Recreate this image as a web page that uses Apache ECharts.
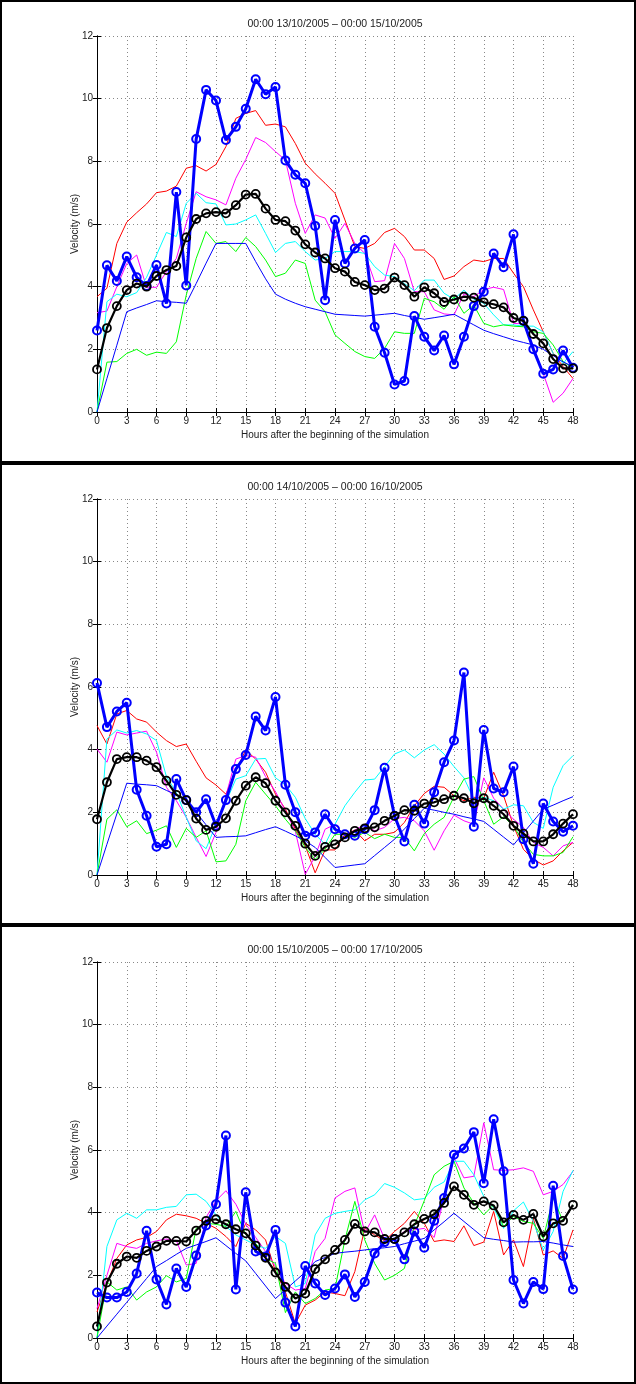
<!DOCTYPE html>
<html>
<head>
<meta charset="utf-8">
<script src="https://cdn.jsdelivr.net/npm/echarts@6/dist/echarts.min.js"></script>
<style>
html,body{margin:0;padding:0;background:#fff;}
#c{width:636px;height:1384px;}
</style>
</head>
<body>
<div id="c"></div>
<script>
// ---- data (hour 0..48, velocity m/s) ----
const hours = Array.from({length: 49}, (_, i) => i);
const xTicks = [0,3,6,9,12,15,18,21,24,27,30,33,36,39,42,45,48];
const yTicks = [0,2,4,6,8,10,12];
const titles = [
  "00:00 13/10/2005 \u2013 00:00 15/10/2005",
  "00:00 14/10/2005 \u2013 00:00 16/10/2005",
  "00:00 15/10/2005 \u2013 00:00 17/10/2005"
];

// Panel 1
const p1Red = [3.68,3.95,5.38,6.06,6.36,6.64,7.0,7.05,7.21,7.78,7.86,7.69,7.9,8.47,9.37,9.53,9.62,9.15,9.19,9.1,8.57,7.94,7.6,7.3,6.98,6.13,5.28,5.22,5.38,5.73,5.86,5.6,5.17,5.17,4.9,4.23,4.34,4.64,4.85,4.8,4.9,4.9,4.43,4.0,3.26,2.56,1.87,1.45,1.07];
const p1Magenta = [3.17,3.22,4.0,4.74,5.01,3.98,3.98,4.48,4.9,6.02,7.03,6.87,6.77,6.61,7.46,8.06,8.76,8.6,8.31,8.04,6.66,5.7,6.29,6.19,5.54,6.02,5.38,5.06,4.16,4.19,5.38,4.9,3.84,3.84,3.26,3.13,3.1,3.77,3.68,3.91,3.98,3.91,2.83,2.81,2.09,1.23,0.31,0.6,1.07];
const p1Cyan = [0,3.52,3.76,3.68,3.81,4.3,5.01,5.73,5.6,6.66,6.98,6.68,6.64,5.97,6.0,6.13,6.29,5.7,5.09,5.38,5.44,5.12,4.85,4.9,5.12,5.12,5.12,5.06,4.64,4.37,4.32,4.1,3.87,4.21,4.21,3.79,3.6,3.89,3.6,3.47,3.1,2.78,2.78,2.74,2.74,2.56,1.87,1.55,1.93];
const p1Green = [0,1.59,1.61,1.87,2.0,1.81,1.91,1.87,2.24,3.73,4.9,5.76,5.38,5.44,5.12,5.57,5.28,4.85,4.32,4.43,4.85,4.74,3.57,3.2,2.46,2.19,1.93,1.77,1.71,2.03,2.56,2.51,2.51,3.63,3.52,3.28,3.68,3.15,3.41,2.83,2.72,2.78,2.74,2.72,2.56,2.51,2.14,1.61,1.39];
const p1BlueThin = [0,1.07,2.13,3.2,3.32,3.43,3.55,3.52,3.5,3.47,4.1,4.75,5.38,5.38,5.38,5.38,4.8,4.25,3.76,3.6,3.47,3.36,3.28,3.2,3.12,3.1,3.08,3.06,3.09,3.12,3.15,3.08,3.02,2.96,3.01,3.06,3.12,2.95,2.78,2.61,2.5,2.4,2.3,2.22,2.14,2.0,1.8,1.6,1.45];
const p1Obs = [2.6,4.68,4.18,4.96,4.3,4.02,4.69,3.46,7.02,4.04,8.71,10.28,9.94,8.68,9.1,9.68,10.62,10.14,10.37,8.03,7.57,7.3,5.94,3.57,6.13,4.74,5.22,5.49,2.72,1.89,0.88,0.99,3.06,2.4,1.96,2.44,1.52,2.4,3.38,3.84,5.06,4.62,5.67,2.91,2.0,1.22,1.36,1.96,1.41];
const p1Mean = [1.36,2.68,3.38,3.89,4.1,4.0,4.34,4.53,4.66,5.57,6.16,6.34,6.38,6.34,6.6,6.94,6.96,6.49,6.13,6.09,5.79,5.35,5.09,4.9,4.59,4.48,4.15,4.05,3.89,3.94,4.29,4.05,3.68,3.98,3.79,3.51,3.59,3.68,3.65,3.5,3.44,3.34,3.0,2.91,2.49,2.19,1.69,1.39,1.39];

// Panel 2
const p2Red = [4.77,4.18,5.14,5.25,4.98,4.88,4.56,4.29,4.1,4.18,3.63,3.1,2.87,2.58,3.33,3.99,3.7,3.28,2.58,2.1,1.46,0.93,0.07,0.8,0.8,1.3,1.43,1.09,1.3,1.3,1.36,1.68,2.21,2.6,2.83,2.8,2.53,2.37,2.48,2.45,3.28,2.53,1.57,0.82,0.5,0.32,0.45,0.77,1.04];
const p2Magenta = [4.02,3.6,4.56,4.47,4.53,4.59,3.92,2.8,2.37,1.84,1.2,0.59,1.36,2.53,3.7,3.81,3.76,3.14,2.66,2.05,1.39,0.02,0.6,1.46,1.62,1.25,1.43,1.62,1.41,1.52,1.8,1.84,1.73,1.41,0.79,1.41,1.91,1.73,1.62,3.1,2.45,2.1,1.78,1.52,1.04,0.88,0.61,0.93,1.04];
const p2Cyan = [0,4.34,4.63,4.53,4.61,4.5,4.29,3.14,2.64,1.84,1.09,0.84,1.62,2.32,3.06,3.17,3.7,3.72,3.1,2.88,2.48,1.8,1.3,0.98,1.62,2.21,2.64,3.03,3.06,3.46,3.86,3.99,3.74,3.99,4.16,3.86,3.46,3.1,2.42,2.48,2.37,2.1,2.24,2.21,1.68,1.49,2.8,3.49,3.81];
const p2Green = [0,1.78,2.08,1.54,1.73,1.32,1.43,1.57,0.88,1.49,1.2,1.41,0.42,0.45,0.98,2.37,2.96,2.58,2.21,1.78,1.41,0.88,0.5,0.82,1.3,1.3,1.2,1.36,1.16,1.3,1.2,1.2,0.77,1.32,1.62,1.84,2.5,3.06,3.14,2.37,1.62,1.86,1.57,1.04,0.66,0.61,0.61,0.72,1.22];
const p2BlueThin = [0,0.98,1.95,2.93,2.9,2.88,2.85,2.7,2.56,2.42,2.0,1.6,1.2,1.22,1.23,1.25,1.35,1.45,1.54,1.4,1.25,1.09,0.88,0.56,0.24,0.28,0.32,0.36,0.62,0.88,1.14,1.47,1.8,2.13,2.07,2.0,1.94,1.86,1.79,1.71,1.46,1.21,0.96,1.34,1.72,2.1,2.23,2.37,2.5];
const p2Obs = [6.13,4.72,5.22,5.5,2.72,1.89,0.9,0.98,3.06,2.39,2.0,2.42,1.57,2.39,3.38,3.83,5.06,4.61,5.68,2.88,2.0,1.25,1.36,1.94,1.46,1.3,1.25,1.46,2.07,3.42,1.89,1.07,2.24,1.64,2.64,3.6,4.29,6.46,1.54,4.63,2.76,2.64,3.46,1.14,0.36,2.28,1.71,1.38,1.57];
const p2Mean = [1.78,2.96,3.7,3.76,3.76,3.65,3.44,3.01,2.56,2.39,1.8,1.44,1.54,1.81,2.37,2.85,3.12,2.93,2.37,2.0,1.57,1.0,0.61,0.9,0.98,1.2,1.41,1.49,1.52,1.73,1.89,2.07,2.05,2.28,2.32,2.42,2.53,2.45,2.29,2.45,2.21,1.94,1.57,1.32,1.07,1.07,1.3,1.64,1.94];

// Panel 3
const p3Red = [0.83,1.74,2.54,2.97,3.13,3.21,3.4,3.77,3.95,3.9,3.82,3.66,3.5,3.24,2.92,3.66,3.45,3.13,2.12,1.47,0.46,1.05,1.21,1.47,1.42,1.35,2.12,3.5,3.29,3.1,3.4,3.66,4.04,3.66,3.08,3.13,3.08,3.58,2.95,3.06,4.04,2.65,3.13,2.28,3.82,2.65,2.78,2.54,3.45];
const p3Magenta = [0.94,2.0,3.02,2.92,2.86,3.02,3.1,3.16,3.1,2.33,2.38,3.85,4.38,4.7,4.27,3.63,3.21,2.76,2.28,1.74,1.53,1.58,2.76,3.18,4.47,4.68,4.79,3.35,3.93,3.16,3.16,3.4,3.45,3.5,3.21,4.47,5.75,5.11,5.16,6.87,5.37,5.35,5.37,5.43,5.32,4.57,4.68,4.9,5.32];
const p3Cyan = [0,2.92,3.77,3.98,3.82,4.09,4.09,4.17,4.2,4.57,4.59,4.36,3.93,3.56,3.29,3.13,2.97,2.86,3.24,3.02,1.63,1.74,3.29,3.82,3.98,4.04,4.09,4.41,4.57,4.93,4.81,4.63,4.41,4.45,4.81,4.98,5.64,5.64,5.21,4.52,4.15,3.5,4.06,4.34,3.72,2.81,3.4,4.68,5.35];
const p3Green = [0,1.79,1.53,1.63,1.21,1.47,1.63,1.99,1.79,1.9,3.5,3.66,3.63,3.56,4.04,3.29,3.02,2.54,2.38,0.81,1.47,1.1,1.26,1.53,1.58,3.13,4.36,3.13,2.38,1.85,2.0,2.22,3.59,4.38,5.21,5.48,5.64,4.79,4.31,3.93,4.25,3.56,3.88,3.72,3.66,3.18,4.47,3.72,4.25];
const p3BlueThin = [0,0.38,0.76,1.14,1.52,1.9,2.28,2.47,2.67,2.86,2.97,3.08,3.2,2.95,2.7,2.46,2.06,1.66,1.26,1.54,1.82,2.1,2.44,2.57,2.7,2.74,2.77,2.81,2.85,2.88,2.92,3.01,3.09,3.18,3.45,3.71,3.98,3.72,3.46,3.2,3.15,3.11,3.06,3.07,3.07,3.08,3.03,2.97,2.92];
const p3Obs = [1.45,1.29,1.29,1.47,2.06,3.42,1.87,1.07,2.22,1.63,2.63,3.59,4.27,6.46,1.55,4.65,2.76,2.6,3.45,1.13,0.37,2.3,1.74,1.37,1.58,2.03,1.31,1.79,2.7,3.06,3.16,2.51,3.4,2.88,3.74,4.47,5.85,6.05,6.57,4.94,6.98,5.32,1.85,1.1,1.79,1.56,4.86,2.62,1.55];
const p3Mean = [0.37,1.77,2.37,2.6,2.56,2.78,2.92,3.1,3.1,3.08,3.43,3.74,3.79,3.63,3.47,3.34,2.95,2.56,2.09,1.63,1.26,1.42,2.2,2.51,2.81,3.13,3.64,3.4,3.37,3.16,3.16,3.37,3.63,3.8,3.95,4.31,4.84,4.57,4.25,4.36,4.23,3.69,3.93,3.77,3.96,3.24,3.66,3.74,4.25];

const panels = [
  {red:p1Red, magenta:p1Magenta, cyan:p1Cyan, green:p1Green, blueThin:p1BlueThin, obs:p1Obs, mean:p1Mean},
  {red:p2Red, magenta:p2Magenta, cyan:p2Cyan, green:p2Green, blueThin:p2BlueThin, obs:p2Obs, mean:p2Mean},
  {red:p3Red, magenta:p3Magenta, cyan:p3Cyan, green:p3Green, blueThin:p3BlueThin, obs:p3Obs, mean:p3Mean}
];

// ---- layout ----
const FONT = '"Liberation Sans", Arial, Helvetica, sans-serif';
const plotLeft = 97, plotWidth = 476;
const plotTops = [36, 499, 962];
const plotHeight = 376;
const frames = [[0,0,636,463],[0,463,636,462],[0,925,636,459]];

const pts = arr => arr.map((v, i) => [hours[i], v]);

const grids = [], xAxes = [], yAxes = [], series = [], graphics = [];
panels.forEach((p, k) => {
  grids.push({left: plotLeft, top: plotTops[k], width: plotWidth, height: plotHeight, show: false});
  const common = {min: 0, max: 48, interval: 3, gridIndex: k, type: 'value'};
  xAxes.push(Object.assign({}, common, {
    position: 'bottom',
    name: 'Hours after the beginning of the simulation',
    nameLocation: 'middle', nameGap: 18, nameMoveOverlap: false,
    nameTextStyle: {fontFamily: FONT, fontSize: 10, color: '#222'},
    axisLine: {show: true, lineStyle: {color: '#000', width: 1}},
    axisTick: {show: true, inside: true, length: 4, lineStyle: {color: '#000'}},
    axisLabel: {fontFamily: FONT, fontSize: 10, color: '#222', margin: 4},
    splitLine: {show: true, lineStyle: {color: '#888', width: 1, type: [1, 3]}}
  }));
  xAxes.push(Object.assign({}, common, {
    position: 'top',
    axisLine: {show: true, lineStyle: {color: '#000', width: 1}},
    axisTick: {show: true, inside: true, length: 4, lineStyle: {color: '#000'}},
    axisLabel: {show: false}, splitLine: {show: false}
  }));
  const ycommon = {min: 0, max: 12, interval: 2, gridIndex: k, type: 'value'};
  yAxes.push(Object.assign({}, ycommon, {
    position: 'left',
    name: 'Velocity (m/s)', nameLocation: 'middle', nameGap: 17, nameMoveOverlap: false,
    nameTextStyle: {fontFamily: FONT, fontSize: 10, color: '#222'},
    axisLine: {show: true, lineStyle: {color: '#000', width: 1}},
    axisTick: {show: true, inside: true, length: 4, lineStyle: {color: '#000'}},
    axisLabel: {fontFamily: FONT, fontSize: 10, color: '#222', margin: 4},
    splitLine: {show: true, lineStyle: {color: '#888', width: 1, type: [1, 3]}}
  }));
  yAxes.push(Object.assign({}, ycommon, {
    position: 'right',
    axisLine: {show: true, lineStyle: {color: '#000', width: 1}},
    axisTick: {show: true, inside: true, length: 4, lineStyle: {color: '#000'}},
    axisLabel: {show: false}, splitLine: {show: false}
  }));
  const xi = 2 * k, yi = 2 * k;
  const thin = (name, data, color) => ({
    type: 'line', name, xAxisIndex: xi, yAxisIndex: yi, data: pts(data),
    symbol: 'none', lineStyle: {color, width: 1}, itemStyle: {color},
    silent: true, z: 2
  });
  series.push(thin('red', p.red, '#ff0000'));
  series.push(thin('magenta', p.magenta, '#ff00ff'));
  series.push(thin('cyan', p.cyan, '#00ffff'));
  series.push(thin('green', p.green, '#00ff00'));
  series.push(thin('blue', p.blueThin, '#0000ff'));
  series.push({
    type: 'line', name: 'observed', xAxisIndex: xi, yAxisIndex: yi, data: pts(p.obs),
    symbol: 'circle', symbolSize: 8,
    lineStyle: {color: '#0000ff', width: 3},
    itemStyle: {color: 'rgba(0,0,0,0)', borderColor: '#0000ff', borderWidth: 2},
    silent: true, z: 3
  });
  series.push({
    type: 'line', name: 'mean', xAxisIndex: xi, yAxisIndex: yi, data: pts(p.mean),
    symbol: 'circle', symbolSize: 8,
    lineStyle: {color: '#000000', width: 2.2},
    itemStyle: {color: 'rgba(0,0,0,0)', borderColor: '#000000', borderWidth: 1.8},
    silent: true, z: 4
  });
  graphics.push({
    type: 'text', x: plotLeft + plotWidth / 2, y: plotTops[k] - 12,
    style: {text: titles[k], fill: '#222', font: '10.5px ' + FONT, textAlign: 'center', textVerticalAlign: 'middle'}
  });
  const f = frames[k];
  graphics.push({
    type: 'rect', shape: {x: f[0] + 1, y: f[1] + 1, width: f[2] - 2, height: f[3] - 2},
    style: {fill: 'none', stroke: '#000', lineWidth: 2}, silent: true
  });
});

const chart = echarts.init(document.getElementById('c'), null, {renderer: 'canvas'});
chart.setOption({
  animation: false,
  backgroundColor: '#fff',
  grid: grids, xAxis: xAxes, yAxis: yAxes, series: series,
  graphic: graphics
});
</script>
</body>
</html>
